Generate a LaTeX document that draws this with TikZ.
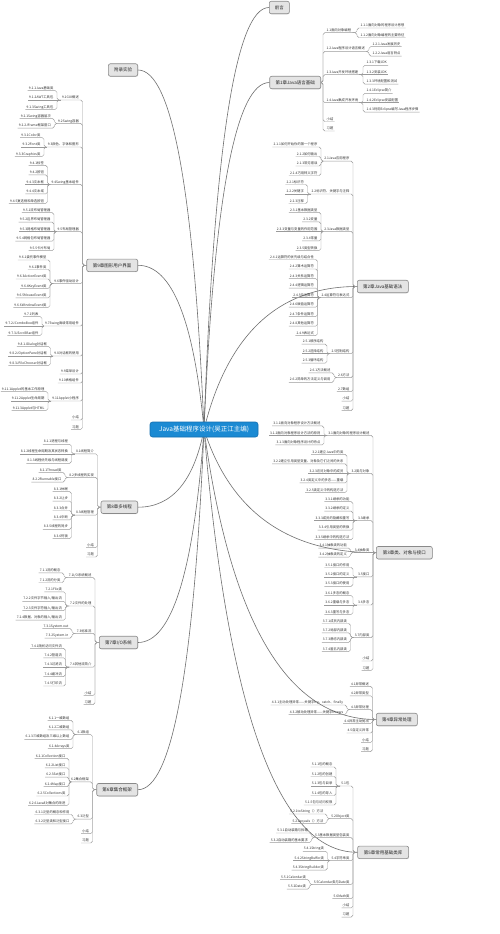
\documentclass[tikz,border=0pt]{standalone}
\usepackage{fontspec}
\setmainfont{Noto Sans CJK SC}
\usetikzlibrary{calc,shadows}
\definecolor{lin}{HTML}{9A9A9A}
\definecolor{cur}{HTML}{6F6F6F}
\definecolor{txt}{HTML}{333333}
\definecolor{boxf}{HTML}{E4E4E4}
\definecolor{bord}{HTML}{8A8A8A}
\definecolor{rootf}{HTML}{1B8AD3}
\definecolor{rootb}{HTML}{1570B0}
\tikzset{
 topic/.style={font=\fontsize{3.3}{4}\selectfont, text=txt, inner xsep=1pt, inner ysep=0.7pt, text height=2.5pt, text depth=0.5pt},
 conn/.style={draw=lin, line width=0.45pt, rounded corners=1.8pt},
 curve/.style={draw=cur, line width=0.6pt},
 chap/.style={draw=bord, fill=boxf, line width=0.6pt, rounded corners=2pt, font=\fontsize{4.5}{5}\selectfont, text=black!85, inner xsep=3pt, minimum height=12.5pt, drop shadow={shadow xshift=0.5pt, shadow yshift=-0.6pt, opacity=0.25}},
 rootbox/.style={draw=rootb, fill=rootf, line width=0.6pt, rounded corners=2.5pt, font=\fontsize{6.5}{7}\selectfont, text=white, inner xsep=3pt, minimum width=108pt, minimum height=15pt},
}
\newcommand{\tpR}[5]{\node[topic,anchor=south west] (#1) at ({#3+2.5},#4) {#5}; \draw[conn] (#2) -| (#3,#4) -- (#1.south east);}
\newcommand{\tpRs}[5]{\node[topic,anchor=south west] (#1) at ({#3+2.5},#4) {#5}; \draw[conn] (#2) -- (#1.south east);}
\newcommand{\tpL}[5]{\node[topic,anchor=south east] (#1) at ({#3-2.5},#4) {#5}; \draw[conn] (#2) -| (#3,#4) -- (#1.south west);}
\newcommand{\tpLs}[5]{\node[topic,anchor=south east] (#1) at ({#3-2.5},#4) {#5}; \draw[conn] (#2) -- (#1.south west);}
\newcommand{\rcurve}[1]{%
 \coordinate (tmpa) at ($(rc)!0.23!(#1)$);
 \coordinate (tmpb) at (tmpa |- #1);
 \draw[curve] (rc) .. controls ($(rc)!0.6667!(tmpb)$) and ($(#1)!0.6667!(tmpb)$) .. (#1);}
\begin{document}
\begin{tikzpicture}[x=1pt,y=-1pt]
\fill[white] (0,0) rectangle (500,934);
\useasboundingbox (0,0) rectangle (500,934);
\coordinate (rc) at (204,429.5);
% chapter boxes
\node[chap, anchor=west, minimum width=20pt] (pre) at (269,7.5) {前言};
\node[chap, anchor=east, minimum width=51pt] (c1) at (321,82.5) {第1章Java语言基础};
\node[chap, anchor=west, minimum width=51pt] (c2) at (357,286.5) {第2章Java基础语法};
\node[chap, anchor=west, minimum width=56pt] (c3) at (376,552.7) {第3章类、对象与接口};
\node[chap, anchor=west, minimum width=41pt] (c4) at (376,719.5) {第4章异常处理};
\node[chap, anchor=west, minimum width=51pt] (c5) at (357.3,852.3) {第5章常用基础类库};
\node[chap, anchor=east, minimum width=29.3pt] (app) at (138,70) {附录实验};
\node[chap, anchor=east, minimum width=51pt] (c9) at (138,265.3) {第9章图形用户界面};
\node[chap, anchor=east, minimum width=36.7pt] (c8) at (138,507.2) {第8章多线程};
\node[chap, anchor=east, minimum width=38.4pt] (c7) at (138,642.5) {第7章I/O系统};
\node[chap, anchor=east, minimum width=41pt] (c6) at (138,789.7) {第6章集合框架};
% curves from root
\rcurve{pre.west}
\rcurve{c1.west}
\rcurve{c2.west}
\rcurve{c3.west}
\rcurve{c4.west}
\rcurve{c5.west}
\rcurve{app.east}
\rcurve{c9.east}
\rcurve{c8.east}
\rcurve{c7.east}
\rcurve{c6.east}
\node[rootbox] (root) at (rc) {Java基础程序设计(吴正江主编)};
% ---------- Chapter 1
\tpR{n11}{c1.east}{323}{32.7}{1.1面向对象编程}
\tpR{n111}{n11.south east}{357}{28.0}{1.1.1面向对象的程序设计思想}
\tpR{n112}{n11.south east}{357}{37.5}{1.1.2面向对象编程的主要特征}
\tpR{n12}{c1.east}{323}{51.4}{1.2Java程序设计语言概述}
\tpR{n121}{n12.south east}{369}{46.6}{1.2.1Java发展历史}
\tpR{n122}{n12.south east}{369}{56.1}{1.2.2Java语言特点}
\tpR{n13}{c1.east}{323}{74.7}{1.3Java开发环境搭建}
\tpR{n131}{n13.south east}{363}{65.3}{1.3.1下载JDK}
\tpRs{n132}{n13.south east}{363}{74.7}{1.3.2安装JDK}
\tpR{n133}{n13.south east}{363}{84.1}{1.3.3环境配置和测试}
\tpR{n14}{c1.east}{323}{102.7}{1.4Java集成开发环境}
\tpR{n141}{n14.south east}{363}{93.3}{1.4.1Eclipse简介}
\tpRs{n142}{n14.south east}{363}{102.7}{1.4.2Eclipse安装配置}
\tpR{n143}{n14.south east}{363}{112.1}{1.4.3利用Eclipse编写Java程序步骤}
\tpR{n1a}{c1.east}{323}{121.5}{小结}
\tpR{n1b}{c1.east}{323}{131.0}{习题}
% ---------- Chapter 2
\tpL{n21}{c2.west}{353}{161.2}{2.1Java应用程序}
\tpL{n211}{n21.south west}{321}{147.0}{2.1.1如何开始你的第一个程序}
\tpL{n212}{n21.south west}{321}{156.5}{2.1.2如何输出}
\tpL{n213}{n21.south west}{321}{166.0}{2.1.3常见错误}
\tpL{n214}{n21.south west}{321}{175.5}{2.1.4巧用转义字符}
\tpL{n22}{c2.west}{353}{194.0}{2.2标识符、关键字与注释}
\tpL{n221}{n22.south west}{307.5}{184.5}{2.2.1标识符}
\tpLs{n222}{n22.south west}{307.5}{194.0}{2.2.2关键字}
\tpL{n223}{n22.south west}{307.5}{203.5}{2.2.3注释}
\tpL{n23}{c2.west}{353}{231.4}{2.3Java数据类型}
\tpL{n231}{n23.south west}{321}{212.4}{2.3.1基本数据类型}
\tpL{n232}{n23.south west}{321}{221.9}{2.3.2变量}
\tpLs{n233}{n23.south west}{321}{231.4}{2.3.3变量与变量的作用范围}
\tpL{n234}{n23.south west}{321}{240.9}{2.3.4常量}
\tpL{n235}{n23.south west}{321}{250.4}{2.3.5类型转换}
\tpL{n24}{c2.west}{353}{297.7}{2.4运算符与表达式}
\tpL{n241}{n24.south west}{317.5}{259.5}{2.4.1运算符的优先级与结合性}
\tpL{n242}{n24.south west}{317.5}{269.0}{2.4.2算术运算符}
\tpL{n243}{n24.south west}{317.5}{278.6}{2.4.3关系运算符}
\tpL{n244}{n24.south west}{317.5}{288.1}{2.4.4逻辑运算符}
\tpLs{n245}{n24.south west}{317.5}{297.7}{2.4.5位运算符}
\tpL{n246}{n24.south west}{317.5}{307.2}{2.4.6赋值运算符}
\tpL{n247}{n24.south west}{317.5}{316.7}{2.4.7条件运算符}
\tpL{n248}{n24.south west}{317.5}{326.2}{2.4.8其他运算符}
\tpL{n249}{n24.south west}{317.5}{335.7}{2.4.9表达式}
\tpL{n25}{c2.west}{353}{353.7}{2.5控制结构}
\tpL{n251}{n25.south west}{327}{344.2}{2.5.1顺序结构}
\tpLs{n252}{n25.south west}{327}{353.7}{2.5.2选择结构}
\tpL{n253}{n25.south west}{327}{363.2}{2.5.3循环结构}
\tpL{n26}{c2.west}{353}{377.6}{2.6方法}
\tpL{n261}{n26.south west}{334}{372.9}{2.6.1方法概述}
\tpL{n262}{n26.south west}{334}{382.3}{2.6.2简单的方法定义与调用}
\tpL{n27}{c2.west}{353}{391.7}{2.7数组}
\tpL{n2a}{c2.west}{353}{401.2}{小结}
\tpL{n2b}{c2.west}{353}{410.6}{习题}
% ---------- Chapter 3
\tpL{n31}{c3.west}{373}{435.4}{3.1面向对象的程序设计概述}
\tpL{n311}{n31.south west}{324}{425.9}{3.1.1面向对象程序设计方法概述}
\tpLs{n312}{n31.south west}{324}{435.4}{3.1.2面向对象程序设计方法的原则}
\tpL{n313}{n31.south west}{324}{444.9}{3.1.3面向对象程序设计的特点}
\tpL{n32}{c3.west}{373}{473.4}{3.2类与对象}
\tpL{n321}{n32.south west}{347}{454.4}{3.2.1建立Java中的类}
\tpL{n322}{n32.south west}{347}{463.9}{3.2.2建立引用类型变量、对象及它们之间的关系}
\tpLs{n323}{n32.south west}{347}{473.4}{3.2.3访问对象中的成员}
\tpL{n324}{n32.south west}{347}{482.9}{3.2.4类定义中的多态——重载}
\tpL{n325}{n32.south west}{347}{492.4}{3.2.5类定义中的构造方法}
\tpL{n33}{c3.west}{373}{520.7}{3.3继承}
\tpL{n331}{n33.south west}{353}{501.7}{3.3.1继承的功能}
\tpL{n332}{n33.south west}{353}{511.2}{3.3.2继承的定义}
\tpLs{n333}{n33.south west}{353}{520.7}{3.3.3成员的隐藏和重写}
\tpL{n334}{n33.south west}{353}{530.2}{3.3.4引用类型的转换}
\tpL{n335}{n33.south west}{353}{539.7}{3.3.5继承中的构造方法}
\tpLs{n34}{c3.west}{373}{552.7}{3.4抽象类}
\tpL{n341}{n34.south west}{350.5}{548.2}{3.4.1抽象类的功能}
\tpL{n342}{n34.south west}{350.5}{557.2}{3.4.2抽象类的定义}
\tpL{n35}{c3.west}{373}{576.9}{3.5接口}
\tpL{n351}{n35.south west}{353}{567.5}{3.5.1接口的作用}
\tpLs{n352}{n35.south west}{353}{576.9}{3.5.2接口的定义}
\tpL{n353}{n35.south west}{353}{586.3}{3.5.3接口的使用}
\tpL{n36}{c3.west}{373}{605.0}{3.6多态}
\tpL{n361}{n36.south west}{353}{595.6}{3.6.1多态的概念}
\tpLs{n362}{n36.south west}{353}{605.0}{3.6.2重载与多态}
\tpL{n363}{n36.south west}{353}{614.4}{3.6.3重写与多态}
\tpL{n37}{c3.west}{373}{637.6}{3.7内部类}
\tpL{n371}{n37.south west}{350.5}{623.5}{3.7.1成员内部类}
\tpL{n372}{n37.south west}{350.5}{632.9}{3.7.2局部内部类}
\tpL{n373}{n37.south west}{350.5}{642.3}{3.7.3静态内部类}
\tpL{n374}{n37.south west}{350.5}{651.7}{3.7.4匿名内部类}
\tpL{n3a}{c3.west}{373}{661.0}{小结}
\tpL{n3b}{c3.west}{373}{670.4}{习题}
% ---------- Chapter 4
\tpL{n41}{c4.west}{372.5}{686.4}{4.1异常概述}
\tpL{n42}{c4.west}{372.5}{695.8}{4.2异常类型}
\tpL{n43}{c4.west}{372.5}{709.7}{4.3异常处理}
\tpL{n431}{n43.south west}{346.8}{705.0}{4.3.1主动处理异常——关键字try、catch、finally}
\tpL{n432}{n43.south west}{346.8}{714.4}{4.3.2被动处理异常——关键字throws}
\tpL{n44}{c4.west}{372.5}{723.4}{4.4异常主动抛出}
\tpL{n45}{c4.west}{372.5}{733.0}{4.5自定义异常}
\tpL{n4a}{c4.west}{372.5}{742.4}{小结}
\tpL{n4b}{c4.west}{372.5}{751.6}{习题}
% ---------- Chapter 5
\tpL{n51}{c5.west}{353}{786.0}{5.1包}
\tpL{n511}{n51.south west}{336}{767.0}{5.1.1包的概念}
\tpL{n512}{n51.south west}{336}{776.5}{5.1.2包的创建}
\tpLs{n513}{n51.south west}{336}{786.0}{5.1.3包与目录}
\tpL{n514}{n51.south west}{336}{795.5}{5.1.4包的导入}
\tpL{n515}{n51.south west}{336}{805.0}{5.1.5包与访问权限}
\tpL{n52}{c5.west}{353}{818.7}{5.2Object类}
\tpL{n521}{n52.south west}{327}{814.0}{5.2.1toString（）方法}
\tpL{n522}{n52.south west}{327}{823.4}{5.2.2equals（）方法}
\tpL{n53}{c5.west}{353}{837.7}{5.3基本数据类型包装类}
\tpL{n531}{n53.south west}{311.5}{833.0}{5.3.1自动装箱与拆箱}
\tpL{n532}{n53.south west}{311.5}{842.4}{5.3.2自动装箱的基本要求}
\tpL{n54}{c5.west}{353}{860.7}{5.4字符串类}
\tpL{n541}{n54.south west}{327.5}{851.3}{5.4.1String类}
\tpLs{n542}{n54.south west}{327.5}{860.7}{5.4.2StringBuffer类}
\tpL{n543}{n54.south west}{327.5}{870.1}{5.4.3StringBuilder类}
\tpL{n55}{c5.west}{353}{884.4}{5.5Calendar类与Date类}
\tpL{n551}{n55.south west}{309.5}{879.7}{5.5.1Calendar类}
\tpL{n552}{n55.south west}{309.5}{889.1}{5.5.2Date类}
\tpL{n56}{c5.west}{353}{898.7}{5.6Math类}
\tpL{n5a}{c5.west}{353}{907.9}{小结}
\tpL{n5b}{c5.west}{353}{917.1}{习题}
% ---------- Chapter 9
\tpL{n91}{c9.west}{82.5}{100.0}{9.1GUI概述}
\tpL{n911x}{n91.south west}{57}{90.6}{9.1.1Java基础类}
\tpLs{n912x}{n91.south west}{57}{100.0}{9.1.2AWT工具包}
\tpL{n913x}{n91.south west}{57}{109.4}{9.1.3Swing工具包}
\tpL{n92}{c9.west}{82.5}{123.4}{9.2Swing容器}
\tpL{n921}{n92.south west}{54.5}{118.7}{9.2.1Swing容器层次}
\tpL{n922}{n92.south west}{54.5}{128.1}{9.2.2JFrame框架窗口}
\tpL{n93}{c9.west}{82.5}{147.0}{9.3颜色、字体和图形}
\tpL{n931}{n93.south west}{44}{137.6}{9.3.1Color类}
\tpLs{n932}{n93.south west}{44}{147.0}{9.3.2Font类}
\tpL{n933}{n93.south west}{44}{156.4}{9.3.3Graphics类}
\tpL{n94}{c9.west}{82.5}{184.4}{9.4Swing基本组件}
\tpL{n941}{n94.south west}{47.5}{165.4}{9.4.1标签}
\tpL{n942}{n94.south west}{47.5}{174.9}{9.4.2按钮}
\tpLs{n943}{n94.south west}{47.5}{184.4}{9.4.3文本框}
\tpL{n944}{n94.south west}{47.5}{193.9}{9.4.4文本域}
\tpL{n945}{n94.south west}{47.5}{203.4}{9.4.5复选框和单选按钮}
\tpL{n95}{c9.west}{82.5}{231.7}{9.5布局管理器}
\tpL{n951}{n95.south west}{54}{212.7}{9.5.1流布局管理器}
\tpL{n952}{n95.south west}{54}{222.2}{9.5.2边界布局管理器}
\tpLs{n953}{n95.south west}{54}{231.7}{9.5.3网格布局管理器}
\tpL{n954}{n95.south west}{54}{241.2}{9.5.4网格包布局管理器}
\tpL{n955}{n95.south west}{54}{250.7}{9.5.5卡片布局}
\tpL{n96}{c9.west}{82.5}{283.7}{9.6事件驱动设计}
\tpL{n961}{n96.south west}{50}{260.0}{9.6.1委托事件模型}
\tpL{n962}{n96.south west}{50}{269.5}{9.6.2事件类}
\tpL{n963}{n96.south west}{50}{279.0}{9.6.3ActionEvent类}
\tpL{n964}{n96.south west}{50}{288.4}{9.6.4KeyEvent类}
\tpL{n965}{n96.south west}{50}{297.9}{9.6.5MouseEvent类}
\tpL{n966}{n96.south west}{50}{307.4}{9.6.6WindowEvent类}
\tpL{n97}{c9.west}{82.5}{326.0}{9.7Swing高级常用组件}
\tpL{n971}{n97.south west}{42}{316.6}{9.7.1列表}
\tpLs{n972}{n97.south west}{42}{326.0}{9.7.2JComboBox组件}
\tpL{n973}{n97.south west}{42}{335.4}{9.7.3JScrollBar组件}
\tpL{n98}{c9.west}{82.5}{356.0}{9.8对话框的使用}
\tpL{n981}{n98.south west}{50.5}{346.6}{9.8.1JDialog对话框}
\tpLs{n982}{n98.south west}{50.5}{356.0}{9.8.2JOptionPane对话框}
\tpL{n983}{n98.south west}{50.5}{365.4}{9.8.3JFileChooser对话框}
\tpL{n99}{c9.west}{82.5}{374.0}{9.9菜单设计}
\tpL{n910}{c9.west}{82.5}{383.0}{9.10表格组件}
\tpL{n911}{c9.west}{82.5}{401.0}{9.11Applet小程序}
\tpL{n9111}{n911.south west}{48}{391.6}{9.11.1Applet的基本工作原理}
\tpLs{n9112}{n911.south west}{48}{401.0}{9.11.2Applet生命周期}
\tpL{n9113}{n911.south west}{48}{410.4}{9.11.3Applet与HTML}
\tpL{n9a}{c9.west}{82.5}{420.0}{小结}
\tpL{n9b}{c9.west}{82.5}{429.4}{习题}
% ---------- Chapter 8
\tpL{n81}{c8.west}{97.5}{453.8}{8.1线程简介}
\tpL{n811}{n81.south west}{71.5}{444.3}{8.1.1进程与线程}
\tpLs{n812}{n81.south west}{71.5}{453.8}{8.1.2线程生命周期及其状态转换}
\tpL{n813}{n81.south west}{71.5}{463.3}{8.1.3线程优先级与线程调度}
\tpL{n82}{c8.west}{97.5}{477.4}{8.2多线程的实现}
\tpL{n821}{n82.south west}{65}{472.7}{8.2.1Thread类}
\tpL{n822}{n82.south west}{65}{482.1}{8.2.2Runnable接口}
\tpL{n83}{c8.west}{97.5}{515.2}{8.3线程管理}
\tpL{n831}{n83.south west}{71.5}{491.7}{8.3.1休眠}
\tpL{n832}{n83.south west}{71.5}{501.1}{8.3.2让步}
\tpL{n833}{n83.south west}{71.5}{510.5}{8.3.3合并}
\tpL{n834}{n83.south west}{71.5}{519.9}{8.3.4中断}
\tpL{n835}{n83.south west}{71.5}{529.3}{8.3.5线程的同步}
\tpL{n836}{n83.south west}{71.5}{538.7}{8.3.6死锁}
\tpL{n8a}{c8.west}{97.5}{547.7}{小结}
\tpL{n8b}{c8.west}{97.5}{557.0}{习题}
% ---------- Chapter 7
\tpL{n71}{c7.west}{95}{577.7}{7.1I/O系统概述}
\tpL{n711}{n71.south west}{64}{572.9}{7.1.1流的概念}
\tpL{n712}{n71.south west}{64}{582.5}{7.1.2流的分类}
\tpL{n72}{c7.west}{95}{606.0}{7.2文件的处理}
\tpL{n721}{n72.south west}{65.5}{591.8}{7.2.1File类}
\tpL{n722}{n72.south west}{65.5}{601.3}{7.2.2文件字节输入/输出流}
\tpL{n723}{n72.south west}{65.5}{610.7}{7.2.3文件字符输入/输出流}
\tpL{n724}{n72.south west}{65.5}{620.2}{7.2.4数据、对象的输入/输出流}
\tpL{n73}{c7.west}{95}{633.4}{7.3标准流}
\tpL{n731}{n73.south west}{72}{628.7}{7.3.1System.out}
\tpL{n732}{n73.south west}{72}{638.1}{7.3.2System.in}
\tpL{n74}{c7.west}{95}{667.2}{7.4其他流简介}
\tpL{n741}{n74.south west}{65.5}{648.4}{7.4.1随机访问文件流}
\tpL{n742}{n74.south west}{65.5}{657.8}{7.4.2管道流}
\tpLs{n743}{n74.south west}{65.5}{667.2}{7.4.3过滤流}
\tpL{n744}{n74.south west}{65.5}{676.6}{7.4.4缓冲流}
\tpL{n745}{n74.south west}{65.5}{686.0}{7.4.5打印流}
\tpL{n7a}{c7.west}{95}{695.4}{小结}
\tpL{n7b}{c7.west}{95}{704.6}{习题}
% ---------- Chapter 6
\tpL{n61}{c6.west}{92.5}{734.6}{6.1数组}
\tpL{n611}{n61.south west}{73}{720.4}{6.1.1一维数组}
\tpL{n612}{n61.south west}{73}{729.9}{6.1.2二维数组}
\tpL{n613}{n61.south west}{73}{739.3}{6.1.3三维数组及三维以上数组}
\tpL{n614}{n61.south west}{73}{748.7}{6.1.4Arrays类}
\tpL{n62}{c6.west}{92.5}{781.9}{6.2集合框架}
\tpL{n621}{n62.south west}{69}{758.4}{6.2.1Collection接口}
\tpL{n622}{n62.south west}{69}{767.8}{6.2.2List接口}
\tpL{n623}{n62.south west}{69}{777.2}{6.2.3Set接口}
\tpL{n624}{n62.south west}{69}{786.6}{6.2.4Map接口}
\tpL{n625}{n62.south west}{69}{796.0}{6.2.5Collections类}
\tpL{n626}{n62.south west}{69}{805.4}{6.2.6Java8对集合的改进}
\tpL{n63}{c6.west}{92.5}{819.2}{6.3泛型}
\tpL{n631}{n63.south west}{73}{814.5}{6.3.1泛型的概念和作用}
\tpL{n632}{n63.south west}{73}{823.9}{6.3.2泛型类和泛型接口}
\tpL{n6a}{c6.west}{92.5}{833.7}{小结}
\tpL{n6b}{c6.west}{92.5}{843.0}{习题}
\end{tikzpicture}
\end{document}
